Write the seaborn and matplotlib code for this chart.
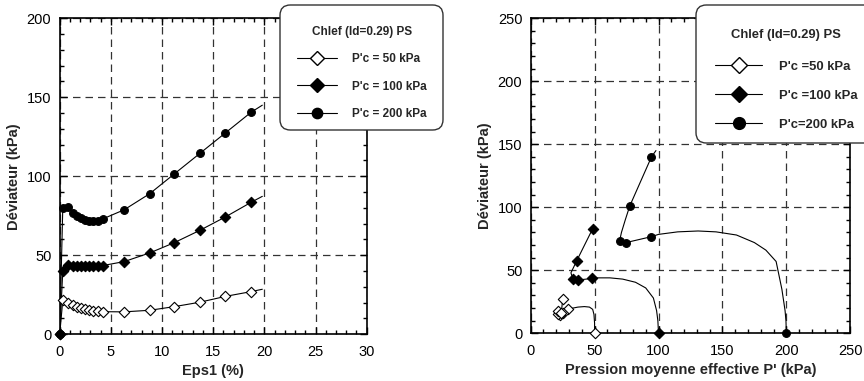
import numpy as np
import pandas as pd
import matplotlib
matplotlib.use("Agg")
import matplotlib.pyplot as plt
from matplotlib.lines import Line2D
from matplotlib.patches import FancyBboxPatch
from matplotlib.ticker import MultipleLocator
import seaborn as sns

# ---------------- data ----------------
eps = [0, 0.3, 0.8, 1.3, 1.7, 2.1, 2.5, 2.9, 3.3, 3.7, 4.2, 6.3, 8.8, 11.2, 13.7, 16.2, 18.7, 19.8]
q_50 = [0, 21.5, 20, 18.5, 17.5, 16.8, 16, 15.5, 15, 14.7, 14.3, 14.2, 15.2, 17.5, 20.3, 24, 27, 28.5]
q_100 = [0, 40, 44, 43.5, 43, 43, 43, 43, 43, 43.2, 43.5, 46, 51.5, 58, 65.8, 74.3, 83.5, 87.3]
q_200 = [0, 80, 80.5, 77, 75, 73.5, 72.5, 72, 72, 72, 73, 78.8, 89, 101.5, 114.5, 127.5, 140.5, 145]

p_50_line = [50, 50, 49.5, 48.5, 46, 42, 37, 33, 29, 25, 23, 21.5, 21, 24, 25]
q_50_line = [0, 8, 15, 19, 20.8, 21.2, 20.8, 20, 19, 16, 14.5, 15.5, 17.5, 16, 27]
p_50_mark = [50, 29, 25, 23, 21.5, 21, 24, 25]
q_50_mark = [0, 19, 16, 14.5, 15.5, 17.5, 16, 27]

p_100_line = [100, 99.5, 98.5, 96, 90, 82, 72, 62, 50, 48, 37, 33, 31.5, 36, 48.5]
q_100_line = [0, 10, 18, 28, 36, 40.5, 43, 44, 44, 43.5, 42.3, 43.2, 48, 57.5, 83]
p_100_mark = [100, 48, 37, 33, 36, 48.5]
q_100_mark = [0, 43.5, 42.3, 43.2, 57.5, 83]

p_200_line = [200, 199.7, 199, 196.5, 192, 184, 175, 161, 145, 131, 115, 100, 94.5, 74.6, 69.5, 71, 74, 77.5, 94.5, 98]
q_200_line = [0, 10, 18, 35, 57, 66, 72, 78, 80.5, 81.2, 80.5, 78.5, 76.7, 72, 73, 80, 90, 101, 140, 145]
p_200_mark = [200, 94.5, 74.6, 69.5, 77.5, 94.5]
q_200_mark = [0, 76.7, 72, 73, 101, 140]

title = "Chlef (Id=0.29) PS"
labels_left = ["P'c = 50 kPa", "P'c = 100 kPa", "P'c = 200 kPa"]
labels_right = ["P'c =50 kPa", "P'c =100 kPa", "P'c=200 kPa"]

# ---------------- style ----------------
sns.set_style("ticks")
plt.rcParams['font.family'] = ['Liberation Sans', 'DejaVu Sans']

W, H = 864, 381
fig = plt.figure(figsize=(W / 100, H / 100), dpi=100)
axL = fig.add_axes([0.0691, 0.1226, 0.3553, 0.8294])
axR = fig.add_axes([0.6142, 0.1252, 0.3699, 0.8268])

styles = [
    dict(marker='D', mfc='white', mec='black', ms=5.0),
    dict(marker='D', mfc='black', mec='black', ms=5.0),
    dict(marker='o', mfc='black', mec='black', ms=5.3),
]


def draw(ax, x_line, y_line, x_mark, y_mark, st):
    df = pd.DataFrame({'x': x_line, 'y': y_line})
    sns.lineplot(data=df, x='x', y='y', ax=ax, sort=False, estimator=None,
                 color='black', lw=0.8, zorder=3)
    dm = pd.DataFrame({'x': x_mark, 'y': y_mark})
    sns.scatterplot(data=dm, x='x', y='y', ax=ax, marker=st['marker'],
                    s=(st['ms'] + 0.3) ** 2, facecolor=st['mfc'], edgecolor=st['mec'],
                    linewidth=0.8, zorder=4, clip_on=False)


# left
for q, st in zip([q_50, q_100, q_200], styles):
    draw(axL, eps, q, eps[:-1], q[:-1], st)

# right
draw(axR, p_50_line, q_50_line, p_50_mark, q_50_mark, styles[0])
draw(axR, p_100_line, q_100_line, p_100_mark, q_100_mark, styles[1])
draw(axR, p_200_line, q_200_line, p_200_mark, q_200_mark, styles[2])


def style_axes(ax, xmax, ymax, xmaj, xmin, ymaj, ymin, xlabel):
    ax.set_xlim(0, xmax)
    ax.set_ylim(0, ymax)
    ax.xaxis.set_major_locator(MultipleLocator(xmaj))
    ax.xaxis.set_minor_locator(MultipleLocator(xmin))
    ax.yaxis.set_major_locator(MultipleLocator(ymaj))
    ax.yaxis.set_minor_locator(MultipleLocator(ymin))
    ax.tick_params(which='both', direction='in', top=True, right=True,
                   labelsize=10.5, colors='black', width=1.0)
    ax.tick_params(which='major', length=5)
    ax.tick_params(which='minor', length=3)
    ax.tick_params(axis='x', which='major', pad=8)
    ax.tick_params(axis='y', which='major', pad=6)
    for s in ax.spines.values():
        s.set_visible(True)
        s.set_linewidth(1.2)
        s.set_color('black')
    ax.grid(True, which='major', ls=(0, (6, 4)), color='#333333', lw=0.9)
    ax.set_axisbelow(True)
    ax.set_xlabel(xlabel, fontsize=10.5, fontweight='bold', labelpad=3)
    ax.set_ylabel("Déviateur (kPa)", fontsize=10.5, fontweight='bold', labelpad=4)


style_axes(axL, 30, 200, 5, 1, 50, 10, "Eps1 (%)")
style_axes(axR, 250, 250, 50, 10, 50, 10, "Pression moyenne effective P' (kPa)")


def make_handles():
    return [Line2D([0], [0], color='black', lw=0.8, **st) for st in styles]


def add_box(ax, x0, y0, x1, y1):
    # rounded frame in pixel coordinates (top-left origin)
    box = FancyBboxPatch((x0 / W, 1 - y1 / H), (x1 - x0) / W, (y1 - y0) / H,
                         boxstyle='round,pad=0,rounding_size=0.012',
                         transform=fig.transFigure, facecolor='white',
                         edgecolor='#333333', linewidth=1.0, zorder=9,
                         mutation_aspect=W / H)
    box.set_clip_on(False)
    ax.add_artist(box)


def add_legend(ax, labels, x0, y0, fs, spacing, hl, htp, sep, mscale):
    leg = ax.legend(make_handles(), labels, title=title, loc='upper left',
                    bbox_to_anchor=(x0 / W, 1 - y0 / H), bbox_transform=fig.transFigure,
                    borderaxespad=0, frameon=False, borderpad=0,
                    prop={'weight': 'bold', 'size': fs},
                    title_fontproperties={'weight': 'bold', 'size': fs},
                    handlelength=hl, handletextpad=htp, markerscale=mscale,
                    labelspacing=spacing)
    leg._legend_box.sep = sep
    leg.set_zorder(10)
    return leg


add_box(axL, 280, 5, 443, 130)
add_legend(axL, labels_left, 297, 26, 8.5, 1.3, 3.4, 1.27, 11, 1.4)
add_box(axR, 696, 5, 885, 143)
add_legend(axR, labels_right, 715, 29, 9.4, 1.3, 3.6, 1.3, 14, 1.6)

fig.savefig("out.png", dpi=100)
